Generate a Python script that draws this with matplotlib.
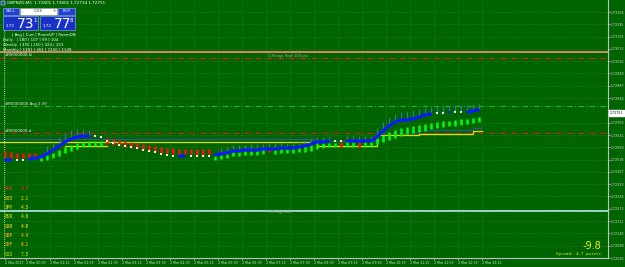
import numpy as np
import matplotlib.pyplot as plt
from matplotlib.patches import Rectangle

W, H = 625, 267
BG = '#006400'

symbol = "GBPNZD,M5"
ohlc = ["1.72801", "1.72801", "1.72734", "1.72751"]
bid = 1.72751
spread = 4.7
change = -9.8

# indicator values, one sample every 10 minutes starting 00:00
mid = [1.72516, 1.72516, 1.72516, 1.72516, 1.72521, 1.72526, 1.72531, 1.72546, 1.72566, 1.72586,
       1.72606, 1.72621, 1.72631, 1.72636, 1.72636, 1.72636, 1.72631, 1.72611, 1.72601, 1.72591,
       1.72586, 1.72581, 1.72576, 1.72566, 1.72561, 1.72556, 1.72546, 1.72541, 1.72536, 1.72536,
       1.72536, 1.72536, 1.72536, 1.72536, 1.72536, 1.72541, 1.72546, 1.72551, 1.72561, 1.72561,
       1.72566, 1.72566, 1.72566, 1.72571, 1.72571, 1.72571, 1.72576, 1.72576, 1.72576, 1.72581,
       1.72586, 1.72596, 1.72606, 1.72606, 1.72611, 1.72611, 1.72611, 1.72611, 1.72611, 1.72611,
       1.72611, 1.72611, 1.72631, 1.72661, 1.72686, 1.72706, 1.72716, 1.72716, 1.72721, 1.72731,
       1.72741, 1.72746, 1.72751, 1.72751, 1.72756, 1.72756, 1.72756, 1.72756, 1.72761, 1.72766]
mid_col = ("bbww" + "bbbbbbbbbbb" + "wwwwwwwwwwwwww" + "bb" + "wwww" +
           "bbbbbbbbbbbbbbbbbbbb" + "ww" + "bbbbbbbbbbbbbbb" + "ww" + "b" + "ww" + "bbb")

bar_top = [1.72561, 1.72556, 1.72551, 1.72551, 1.72551, 1.72551, 1.72536, 1.72541, 1.72551, 1.72566,
           1.72581, 1.72591, 1.72601, 1.72606, 1.72611, 1.72611, 1.72611, 1.72626, 1.72621, 1.72616,
           1.72611, 1.72606, 1.72601, 1.72596, 1.72591, 1.72586, 1.72581, 1.72576, 1.72576, 1.72571,
           1.72571, 1.72571, 1.72571, 1.72571, 1.72571, 1.72536, 1.72541, 1.72546, 1.72556, 1.72556,
           1.72561, 1.72561, 1.72561, 1.72566, 1.72576, 1.72566, 1.72571, 1.72571, 1.72571, 1.72576,
           1.72586, 1.72591, 1.72596, 1.72601, 1.72601, 1.72601, 1.72606, 1.72606, 1.72606, 1.72606,
           1.72606, 1.72606, 1.72626, 1.72641, 1.72656, 1.72666, 1.72676, 1.72681, 1.72686, 1.72691,
           1.72696, 1.72701, 1.72706, 1.72711, 1.72711, 1.72716, 1.72721, 1.72721, 1.72726, 1.72731]
bar_bot = [1.72531, 1.72526, 1.72526, 1.72526, 1.72526, 1.72531, 1.72511, 1.72516, 1.72526, 1.72536,
           1.72551, 1.72561, 1.72571, 1.72581, 1.72586, 1.72586, 1.72586, 1.72596, 1.72591, 1.72586,
           1.72581, 1.72576, 1.72571, 1.72566, 1.72561, 1.72556, 1.72551, 1.72551, 1.72546, 1.72546,
           1.72546, 1.72546, 1.72541, 1.72541, 1.72546, 1.72516, 1.72521, 1.72526, 1.72536, 1.72536,
           1.72541, 1.72541, 1.72541, 1.72546, 1.72556, 1.72546, 1.72551, 1.72551, 1.72551, 1.72556,
           1.72556, 1.72561, 1.72571, 1.72576, 1.72581, 1.72581, 1.72581, 1.72581, 1.72581, 1.72581,
           1.72581, 1.72581, 1.72596, 1.72606, 1.72616, 1.72626, 1.72636, 1.72646, 1.72651, 1.72656,
           1.72661, 1.72671, 1.72676, 1.72681, 1.72686, 1.72686, 1.72691, 1.72696, 1.72701, 1.72706]
bar_col = ("rrrrrr" + "ggggggggggg" + "rrrrrrrrrrrrrrrrrr" + "ggggggggg" + "r" +
           "ggggggggggg" + "r" + "gg" + "r" + "gggggggggggggggggggg")

nan = float('nan')
wick_top = ([nan] * 7 +
            [1.72586, 1.72606, 1.72631, 1.72651, 1.72666, 1.72671, 1.72671, 1.72666] +
            [nan] * 21 +
            [1.72576, 1.72581, 1.72591, 1.72591, 1.72591, 1.72596, 1.72596, 1.72596, 1.72601, 1.72601,
             1.72601, 1.72606, 1.72606, 1.72611, 1.72616, 1.72626, 1.72631, 1.72631, 1.72636] +
            [nan] * 2 +
            [1.72636, 1.72636, 1.72636, 1.72636, 1.72636, 1.72676, 1.72706, 1.72731, 1.72746, 1.72756,
             1.72761, 1.72766, 1.72771, 1.72776, 1.72781, 1.72781, 1.72786, 1.72786, 1.72791, 1.72791,
             1.72791, 1.72796, 1.72796])

# session high / low steps (minutes from 00:00)
step_times = [-10, 520, 620, 690, 780, 795]
yellow_lvl = [1.72606, 1.72586, 1.72641, 1.72646, 1.72661]
navy_lvl = [1.72621, 1.72611, 1.72651, 1.72666, 1.72676]
yellow_seg = ([100, 170], 1.72586)

range_high = 1.73056
hi_level = 1.73026
avg_level = 1.72786
lo_level = 1.72651
range_low = 1.72261

price_ticks = [1.73256, 1.73195, 1.73133, 1.73072, 1.73010, 1.72949, 1.72887, 1.72826,
               1.72703, 1.72641, 1.72580, 1.72518, 1.72457, 1.72395, 1.72334, 1.72272,
               1.72211, 1.72149, 1.72088, 1.72026]
time_labels = ["2 Mar 2017", "2 Mar 00:35", "2 Mar 01:15", "2 Mar 01:55", "2 Mar 02:35",
               "2 Mar 03:15", "2 Mar 03:55", "2 Mar 04:35", "2 Mar 05:15", "2 Mar 05:55",
               "2 Mar 06:35", "2 Mar 07:15", "2 Mar 07:55", "2 Mar 08:35", "2 Mar 09:15",
               "2 Mar 09:55", "2 Mar 10:35", "2 Mar 11:15", "2 Mar 11:55", "2 Mar 12:35",
               "2 Mar 13:15"]

currencies = ["AUD", "NZD", "JPY", "EUR", "CAD", "GBP", "CHF", "USD"]
strength = [1.7, 2.1, 4.3, 4.6, 4.8, 4.4, 6.1, 7.5]
cur_colors = ['#c04018', '#b8a818', '#c8c418', '#a8c818', '#c8c418', '#d09818', '#c8a018', '#88c818']

stats_head = "| Avg | Curr | RoomUP | RoomDN"
stats = ["Daily   | 180 | 107 | 99 | 104",
         "Weekly  | 455 | 250 | 324 | 323",
         "Monthly | 1381 | 261 | 1150 | 1149"]

t = np.arange(len(mid)) * 10
mid = np.array(mid)
wick_top = np.array(wick_top)


def tick_minutes(lbl):
    hm = lbl.split()[-1]
    if ':' not in hm:
        return 0
    h, m = hm.split(':')
    return int(h) * 60 + int(m)


fig = plt.figure(figsize=(W / 100, H / 100), dpi=100, facecolor=BG)
ax = fig.add_axes([0, 9 / H, 608 / W, 258 / H], facecolor=BG)
ax.set_xlim(-8.3, 1005)
ax.set_ylim(1.72026, 1.73316)

ax.grid(color='#2f8a2f', ls=(0, (1, 2)), lw=0.5)
ax.set_axisbelow(True)

# levels
ax.axhline(range_high, color='#ff8a7a', lw=1.2)
ax.axhline(hi_level, color='#e02010', lw=0.8, dashes=(5, 2, 1, 2))
ax.axhline(avg_level, color='#28b428', lw=0.8, dashes=(5, 2, 1, 2))
ax.axhline(lo_level, color='#d02010', lw=0.8, dashes=(5, 2, 1, 2))
ax.axhline(range_low, color='#a8dcd8', lw=1.3)

ax.step(step_times, navy_lvl + [navy_lvl[-1]], where='post', color='#2a5a8a', lw=0.9)
ax.step(step_times, yellow_lvl + [yellow_lvl[-1]], where='post', color='#e0e000', lw=0.9)
ax.plot(yellow_seg[0], [yellow_seg[1]] * 2, color='#e0e000', lw=0.9)

ax.axvline(-2, ymin=0, ymax=(258 - 30) / 258, color='#e8e8e8', ls=(0, (1, 1.5)), lw=0.6)

# indicator marks
ax.vlines(t, mid, wick_top, color='#3878a8', lw=0.8, zorder=3)
bcols = ['#00ff00' if c == 'g' else '#ff1010' for c in bar_col]
ax.vlines(t, bar_bot, bar_top, colors=bcols, lw=1.8, zorder=4)
blue = np.where(np.array(list(mid_col)) == 'b', mid, np.nan)
ax.plot(t, blue, color='#0a1aff', lw=2.2, zorder=5, solid_capstyle='butt')
mc = {'b': '#0a1aff', 'w': '#f0f0f0', 'r': '#ff2020'}
ax.scatter(t, mid, s=3, marker='s', c=[mc[c] for c in mid_col], lw=0, zorder=5)

# line labels
lab_kw = dict(textcoords='offset points', va='center', ha='left', size=2.8, color='#f0f0f0')
ax.annotate("#R0000000-hi", (-2, hi_level), xytext=(1, 2), **lab_kw)
ax.annotate("#R0000000 Avg 2:39", (-2, avg_level), xytext=(1, 1.2), **lab_kw)
ax.annotate("#R0000000-d", (-2, lo_level), xytext=(1, 1.2), **lab_kw)
ax.annotate("D-Range High 100 pts", (438, range_high), xytext=(0, -1.5), textcoords='offset points',
            va='top', ha='left', size=2.6, color='#a0a0a0')
ax.annotate("D-Range Low", (438, range_low), xytext=(0, -0.5), textcoords='offset points',
            va='center', ha='left', size=2.6, color='#a0a0a0')

# axes
ax.yaxis.tick_right()
ax.set_yticks(price_ticks)
ax.set_yticklabels([f"{p:.5f}" for p in price_ticks])
ax.set_xticks([tick_minutes(s) for s in time_labels])
ax.set_xticklabels(time_labels)
for lbl in ax.get_xticklabels():
    lbl.set_ha('left')
ax.tick_params(axis='both', labelsize=2.3, colors='#d8d8d8', length=1.5, width=0.5, pad=0.6)
for s in ['top', 'left']:
    ax.spines[s].set_visible(False)
for s in ['right', 'bottom']:
    ax.spines[s].set_color('#c0c0c0')
    ax.spines[s].set_linewidth(0.8)

ax.annotate(f"{bid:.5f}", xy=(1, bid), xycoords=('axes fraction', 'data'), xytext=(1.2, 0),
            textcoords='offset points', ha='left', va='center', size=2.3, color='black',
            bbox=dict(boxstyle='square,pad=0.25', fc='white', ec='white'))


# header panel in pixel coordinates
def fbox(x, y, w, h, **kw):
    fig.add_artist(Rectangle((x / W, 1 - (y + h) / H), w / W, h / H, transform=fig.transFigure, **kw))


def ftext(x, y, s, **kw):
    fig.text(x / W, 1 - y / H, s, **kw)


fbox(1, 1, 4, 4, fc='#3050d0', ec='white', lw=0.3)
ftext(7, 3, symbol + "  " + " ".join(ohlc), size=3, color='white', va='center')
fbox(3, 8, 16, 7, fc='#2040d8', ec='#a0b0ff', lw=0.4)
ftext(11, 11.5, "SELL", size=3, color='white', ha='center', va='center')
fbox(20, 8, 37, 7, fc='white', ec='#a0a0a0', lw=0.4)
ftext(23, 11.5, "-", size=3, color='black', ha='center', va='center')
ftext(38.5, 11.5, "0.05", size=3, color='#404040', ha='center', va='center')
ftext(54, 11.5, "+", size=3, color='black', ha='center', va='center')
fbox(58, 8, 17, 7, fc='#2040d8', ec='#a0b0ff', lw=0.4)
ftext(66.5, 11.5, "BUY", size=3, color='white', ha='center', va='center')
fbox(3, 16, 35, 14, fc='#1832c8', ec='#a0b0ff', lw=0.4)
fbox(40, 16, 35, 14, fc='#1832c8', ec='#a0b0ff', lw=0.4)
ftext(6, 26, "1.72", size=3, color='white', va='center')
ftext(17, 23.5, "73", size=10, color='white', va='center')
ftext(33, 20, "1", size=4, color='white', va='center')
ftext(43, 26, "1.72", size=3, color='white', va='center')
ftext(54, 23.5, "77", size=10, color='white', va='center')
ftext(70, 20, "8", size=4, color='white', va='center')

ftext(12, 35, stats_head, size=2.8, color='white', va='center')
for k, line in enumerate(stats):
    ftext(3, 40 + 5 * k, line, size=2.8, color='white', va='center')

for k, (c, v) in enumerate(zip(currencies, strength)):
    y = 189 + 9.3 * k
    ftext(5, y, c, size=3.3, color=cur_colors[k], va='center', family='DejaVu Sans Mono', weight='bold')
    ftext(21, y, f"{v:.1f}", size=3.3, color=cur_colors[k], va='center', family='DejaVu Sans Mono',
          weight='bold')

ftext(601, 246, f"{change:.1f}", size=7, color='#f0f000', ha='right', va='center')
ftext(601, 253.5, f"Spread: {spread} points", size=3, color='#f0f000', ha='right', va='center',
      family='DejaVu Sans Mono')

fig.savefig('out.png', dpi=100, facecolor=BG)
